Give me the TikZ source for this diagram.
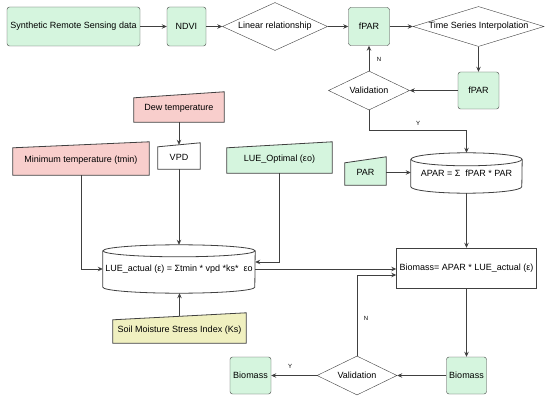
\documentclass[tikz,border=0pt]{standalone}
\usepackage{fontspec}
\setmainfont{Liberation Sans}
\usetikzlibrary{shapes.geometric,arrows.meta,backgrounds}
\definecolor{boxgreen}{RGB}{213,245,222}
\definecolor{boxpink}{RGB}{248,206,204}
\definecolor{boxyellow}{RGB}{240,240,192}
\definecolor{linegray}{RGB}{64,64,64}

\begin{document}
\begin{tikzpicture}[x=1pt,y=1pt]
		\begin{scope}[scale=1]
		
		\tikzstyle{greenbox}=[rectangle,
		rounded corners=2.5pt,
		draw=linegray,
		fill=boxgreen,
		inner sep=0pt,
		font=\fontsize{9}{10}\selectfont
		]
		\tikzstyle{plainbox}=[rectangle,
		draw=linegray,
		fill=white,
		inner sep=0pt,
		font=\fontsize{9}{10}\selectfont
		]
		\tikzstyle{decision}=[diamond,
		aspect=2.5,
		draw=linegray,
		fill=white,
		inner sep=0pt,
		font=\fontsize{9}{10}\selectfont
		]
		\tikzstyle{textbox}=[rectangle,
		inner sep=0pt,
		font=\fontsize{9}{10}\selectfont
		]
		\tikzstyle{myline}=[draw=linegray, line width=0.8pt]
		\tikzstyle{myarrow}=[myline, -{Stealth[length=5pt,width=4.5pt]}]
		\tikzstyle{yn}=[inner sep=0pt, font=\fontsize{6}{7}\selectfont]
		
		\useasboundingbox (0,0) rectangle (550,400);
		
		\coordinate (psrs) at (73.5, 373.5);
		\coordinate (pndvi) at (186.5, 373.5);
		\coordinate (plin) at (275, 373.5);
		\coordinate (pfpar1) at (369, 373.5);
		\coordinate (ptsi) at (478.5, 373.5);
		
		\coordinate (pfpar2) at (478.5, 309.5);
		\coordinate (pval1) at (369, 309.5);
		
		\coordinate (pdew) at (179, 291.5);
		\coordinate (pvpd) at (179, 243);
		\coordinate (ptmin) at (81, 240);
		\coordinate (popt) at (279.5, 241);
		\coordinate (ppar) at (365.5, 227.5);
		\coordinate (papar) at (466.5, 227);
		
		\coordinate (plue) at (179, 131);
		\coordinate (pbio) at (466.5, 132);
		\coordinate (pks) at (179.5, 70.25);
		
		\coordinate (pbio2) at (466.5, 24.5);
		\coordinate (pval2) at (357, 24.5);
		\coordinate (pbio3) at (250.5, 24.5);
		
		
		\node[greenbox, minimum width=133, minimum height=39] (srs) at (psrs) {Synthetic Remote Sensing data};
		\node[greenbox, minimum width=39, minimum height=39] (ndvi) at (pndvi) {NDVI};
		\node[decision, minimum width=105, minimum height=48] (lin) at (plin) {Linear relationship};
		\node[greenbox, minimum width=41, minimum height=38] (fpar1) at (pfpar1) {fPAR};
		\node[decision, aspect=3.3, minimum width=131, minimum height=40] (tsi) at (ptsi) {Time Series Interpolation};
		\node[greenbox, minimum width=41, minimum height=37] (fpar2) at (pfpar2) {fPAR};
		\node[decision, minimum width=81, minimum height=39] (val1) at (pval1) {Validation};
		
		\node[textbox, minimum width=90, minimum height=27] (dew) at (pdew) {Dew temperature};
		\node[textbox, minimum width=42, minimum height=24] (vpd) at (pvpd) {VPD};
		\node[textbox, minimum width=136, minimum height=30] (tmin) at (ptmin) {Minimum temperature (tmin)};
		\node[textbox, minimum width=105, minimum height=28] (opt) at (popt) {LUE\_Optimal (εo)};
		\node[textbox, minimum width=41, minimum height=25] (par) at (ppar) {PAR};
		\node[textbox, minimum width=133, minimum height=26.5] (ks) at (pks) {Soil Moisture Stress Index (Ks)};
		
		\node[textbox, minimum width=111, minimum height=40] (apar) at (papar) {APAR = Σ\ \ fPAR * PAR};
		\node[textbox, minimum width=152, minimum height=48] (lue) at (plue) {LUE\_actual (ε) = Σtmin * vpd *ks*\ \ εo};
		\node[plainbox, minimum width=140, minimum height=40] (bio) at (pbio) {Biomass= APAR * LUE\_actual (ε)};
		
		\node[greenbox, minimum width=40, minimum height=37] (bio2) at (pbio2) {Biomass};
		\node[decision, minimum width=80, minimum height=39] (val2) at (pval2) {Validation};
		\node[greenbox, minimum width=41, minimum height=37] (bio3) at (pbio3) {Biomass};
		
		% slanted tops of the input boxes
		\begin{pgfonlayer}{background}
		\draw[myline, fill=boxpink] (dew.south west) -- (dew.south east) -- ([yshift=3pt]dew.north east) -- ([yshift=-3pt]dew.north west) -- cycle;
		\draw[myline, fill=white] (vpd.south west) -- (vpd.south east) -- ([yshift=2pt]vpd.north east) -- ([yshift=-2pt]vpd.north west) -- cycle;
		\draw[myline, fill=boxpink] (tmin.south west) -- (tmin.south east) -- ([yshift=3pt]tmin.north east) -- ([yshift=-3pt]tmin.north west) -- cycle;
		\draw[myline, fill=boxgreen] (opt.south west) -- (opt.south east) -- ([yshift=3pt]opt.north east) -- ([yshift=-3pt]opt.north west) -- cycle;
		\draw[myline, fill=boxgreen] (par.south west) -- (par.south east) -- ([yshift=3pt]par.north east) -- ([yshift=-3pt]par.north west) -- cycle;
		\draw[myline, fill=boxyellow] (ks.south west) -- (ks.south east) -- ([yshift=3.5pt]ks.north east) -- ([yshift=-3.5pt]ks.north west) -- cycle;
		\end{pgfonlayer}
		
		% cylinders
		\draw[myline] ([yshift=-6.5pt]apar.north west) -- ([yshift=6.5pt]apar.south west) arc[start angle=180, end angle=360, x radius=55.5, y radius=6.5] -- ([yshift=-6.5pt]apar.north east);
		\draw[myline] ([yshift=-6.5pt]apar.north) ellipse[x radius=55.5, y radius=6.5];
		\draw[myline] ([yshift=-6pt]lue.north west) -- ([yshift=6pt]lue.south west) arc[start angle=180, end angle=360, x radius=76, y radius=6] -- ([yshift=-6pt]lue.north east);
		\draw[myline] ([yshift=-6pt]lue.north) ellipse[x radius=76, y radius=6];
		
		
		\draw[myarrow] (srs.east) -- (ndvi.west);
		\draw[myarrow] (ndvi.east) -- (lin.west);
		\draw[myarrow] (lin.east) -- (fpar1.west);
		\draw[myarrow] (fpar1.east) -- (tsi.west);
		\draw[myarrow] (tsi.south) -- (fpar2.north);
		\draw[myarrow] (fpar2.west) -- (val1.east);
		\draw[myarrow] (val1.north) -- (fpar1.south);
		\draw[myarrow] (val1.south) -- ++(0,-20) -| (apar.north);
		\draw[myarrow] (par.east) -- (par.east -| apar.west);
		\draw[myarrow] (apar.south) -- (bio.north);
		
		\draw[myarrow] (tmin.south) |- (lue.west);
		\draw[myarrow] (dew.south) -- (vpd.north);
		\draw[myarrow] (vpd.south) -- (lue.north);
		\draw[myarrow] (opt.south) |- ([yshift=7pt]lue.east);
		\draw[myarrow] (ks.north) -- (ks.north |- lue.south);
		\draw[myarrow] (lue.east) -- (lue.east -| bio.west);
		
		\draw[myarrow] (bio.south) -- (bio2.north);
		\draw[myarrow] (bio2.west) -- (val2.east);
		\draw[myarrow] (val2.west) -- (bio3.east);
		\draw[myarrow] (val2.north) |- ([yshift=-7pt]bio.west);
		
		\node[yn] (n1) at (379, 341) {N};
		\node[yn] (y1) at (418, 277) {Y};
		\node[yn] (n2) at (366, 82) {N};
		\node[yn] (y2) at (290, 34) {Y};
		
		\end{scope}
\end{tikzpicture}
\end{document}
